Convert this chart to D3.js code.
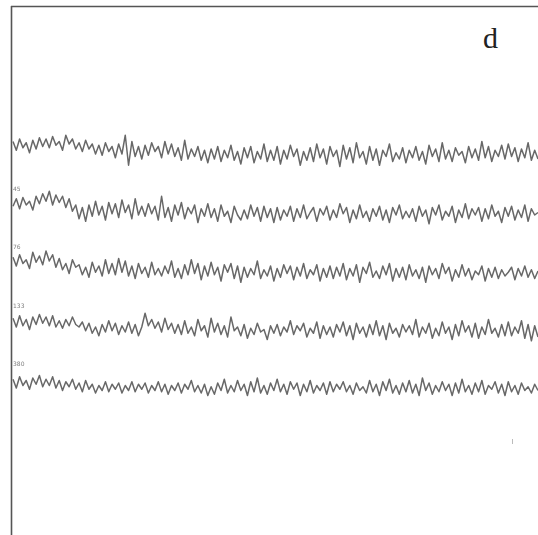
<!DOCTYPE html>
<html>
<head>
<meta charset="utf-8">
<script src="https://cdn.jsdelivr.net/npm/d3@7"></script>
<style>
  body { margin: 0; background: #fff; }
  svg { display: block; }
</style>
</head>
<body>
<div id="chart"></div>
<script>
// trace labels (shown above each trace except the first)
var traceLabels = ["", "45", "76", "133", "380"];

// signal values (arbitrary units, positive = up)
var trace1 = [10,3,12,5,9,1,11,4,13,6, 12,5,14,7,10,3,15,8,12,4, 9,2,11,4,8,0,7,-1,9,2,
  6,-3,8,0,15,-9,10,-2,6,-4, 7,-1,9,2,6,-3,10,0,8,-2, 5,-5,11,-4,4,-2,6,-5,3,-7,
  4,-4,6,-6,3,-3,7,-5,2,-8, 5,-3,6,-7,2,-4,8,-6,3,-5, 6,-8,3,-4,7,-2,4,-9,2,-5,
  5,-6,8,-3,4,-8,6,-2,3,-10, 7,-4,5,-7,9,-3,2,-8,6,-5, 4,-9,3,-2,8,-6,1,-4,5,-7,
  3,-3,6,-5,2,-8,7,-2,4,-6, 9,-4,3,-6,5,-1,2,-7,6,-3, 4,-5,10,-3,6,-6,3,-2,7,-4,
  8,-2,5,-6,4,-3,9,-5,3,-4];
var trace2 = [5,11,3,12,6,9,2,13,7,15, 9,17,6,14,8,13,4,11,1,6, -5,4,-7,6,-3,9,-2,5,-6,8,
  -1,7,-4,10,0,6,-5,11,-2,5, -3,7,-1,5,-6,13,-4,4,-7,6, -2,8,-5,4,-1,6,-8,3,-3,7,
  -4,3,-7,6,-3,1,-8,5,-2,-6, 2,-5,6,-3,4,-7,5,-4,3,-8, 4,-6,2,-3,5,-7,3,-4,6,-5,
  0,4,-7,3,-2,5,-6,2,-4,7, -1,4,-8,2,-5,6,-4,1,-7,3, -3,5,-6,2,-8,4,-2,6,-5,1,
  -4,3,-7,5,-3,2,-9,4,-2,6, -6,1,-3,5,-8,2,-4,7,-5,3, -2,4,-7,3,-5,6,-3,1,-8,4,
  -3,5,-6,2,-4,6,-7,3,-2,0];
var trace3 = [11,4,13,6,9,2,15,7,12,5, 16,8,13,3,10,1,6,-2,9,3, 5,-3,3,-5,7,-1,4,-4,9,-2,
  6,-3,10,-1,8,-4,4,-6,6,-2, 3,-5,7,-3,2,-4,4,-2,8,-5, 2,-6,5,-3,9,-2,6,-7,4,-4,
  7,-3,3,-8,5,-1,6,-6,4,-9, 3,-5,2,-3,8,-6,1,-4,4,-8, 2,-5,5,-2,4,-7,3,-4,6,-6,
  1,-3,5,-8,2,-5,4,-6,3,-4, 6,-7,2,-4,5,-9,3,-2,7,-5, 0,-6,4,-3,6,-8,2,-5,3,-7,
  5,-4,1,-6,3,-9,4,-3,2,-6, 6,-2,3,-8,1,-5,5,-4,2,-7, 0,-3,4,-8,2,-5,3,-6,1,-4,
  -1,3,-7,2,-4,4,-5,1,-6,0];
var trace4 = [9,2,11,3,8,0,10,4,12,5, 10,3,11,2,7,1,8,3,10,4, 2,6,-1,5,-3,2,-5,4,-2,7,
  -1,5,-4,3,-2,6,-3,4,-5,2, 13,3,8,1,6,-2,9,0,5,-3, 4,-4,7,-3,2,-5,8,-1,3,-6,
  9,-2,5,-4,3,-6,10,-1,2,-5, 4,-7,1,-4,5,-2,0,-8,3,-3, 4,-5,2,-2,7,-4,3,-1,5,-6,
  1,-3,6,-7,3,-4,2,-6,4,-2, 6,-5,3,-8,5,-3,2,-6,4,-4, 7,-5,3,-8,5,-3,1,-6,4,-2,
  3,-4,8,-6,2,-3,5,-7,1,-5, 6,-3,2,-8,4,-5,7,-2,3,-6, 5,-7,2,-4,8,-3,1,-6,4,-5,
  6,-5,2,-3,7,-7,4,-9,3,-6];
var trace5 = [7,0,9,2,6,-1,8,3,10,1, 7,2,9,0,6,-2,5,1,7,-1, 4,-3,6,-1,3,-4,2,-2,5,-3,
  3,-1,4,-4,2,-2,5,-3,3,-1, 4,-4,2,-2,5,-3,3,-5,2,-2, 4,-4,3,-1,6,-3,2,-4,3,-6,
  1,-5,4,-2,7,-4,2,-3,6,-2, 3,-6,5,-3,8,-4,2,-5,4,-2, 7,-3,3,-5,5,-1,4,-6,3,-3,
  6,-4,2,-2,4,-5,5,-3,3,-1, 5,-3,2,-5,4,-2,1,-4,6,-3, 3,-6,5,-2,7,-4,2,-5,4,-3,
  6,-4,3,-6,8,-2,4,-5,2,-3, 5,-2,3,-6,4,-4,7,-3,2,-5, 4,-3,6,-5,2,-1,5,-4,3,-6,
  5,-3,2,-5,4,-2,1,-4,3,-2];

var traces = [trace1, trace2, trace3, trace4, trace5];

var width = 538, height = 535;

var svg = d3.select("#chart").append("svg")
  .attr("width", width)
  .attr("height", height);

// slight softening, the original is a scan
svg.append("defs").append("filter").attr("id", "soft")
  .append("feGaussianBlur").attr("stdDeviation", 0.45);

// frame (left and top edge of the scanned panel)
svg.append("line").attr("x1", 11.5).attr("x2", 11.5).attr("y1", 6).attr("y2", height)
  .attr("stroke", "#555").attr("stroke-width", 1.6);
svg.append("line").attr("x1", 11).attr("x2", width).attr("y1", 6.5).attr("y2", 6.5)
  .attr("stroke", "#555").attr("stroke-width", 1.6);

// panel letter
svg.append("text")
  .attr("x", 483).attr("y", 48)
  .attr("font-family", "Liberation Serif, serif")
  .attr("font-size", 30)
  .attr("fill", "#222")
  .text("d");

// row positions of each trace
var row = d3.scaleLinear().domain([0, traces.length - 1]).range([154, 388]);

var g = svg.append("g").attr("filter", "url(#soft)");

traces.forEach(function(vals, i) {
  var x = d3.scaleLinear().domain([0, vals.length - 1]).range([13, 538]);
  var c = row(i);
  var y = d3.scaleLinear().domain([-16, 16]).range([c + 20, c - 20]);

  var line = d3.line()
    .x(function(d, j) { return x(j); })
    .y(function(d) { return y(d); });

  g.append("path")
    .datum(vals)
    .attr("d", line)
    .attr("fill", "none")
    .attr("stroke", "#686868")
    .attr("stroke-width", 1.5)
    .attr("stroke-linejoin", "round");

  if (traceLabels[i]) {
    g.append("text")
      .attr("x", 13).attr("y", c - 22)
      .attr("font-family", "DejaVu Sans, sans-serif")
      .attr("font-size", 6)
      .attr("fill", "#808080")
      .text(traceLabels[i]);
  }
});

// small stray mark near the lower right
svg.append("line").attr("x1", 512.5).attr("x2", 512.5).attr("y1", 439).attr("y2", 444)
  .attr("stroke", "#bbb").attr("stroke-width", 1);
</script>
</body>
</html>
